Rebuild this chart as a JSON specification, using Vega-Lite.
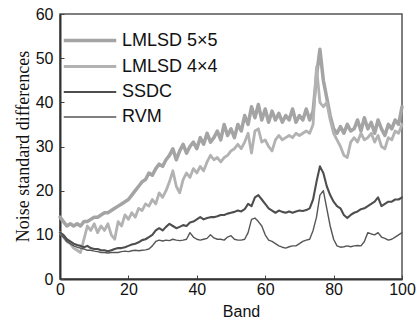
{
  "$schema": "https://vega.github.io/schema/vega-lite/v6.json",
  "width": 342,
  "height": 265,
  "autosize": "none",
  "padding": {"left": 60, "top": 14, "right": 17, "bottom": 41},
  "background": "white",
  "config": {
    "view": {"stroke": "#555", "strokeWidth": 1.5},
    "axis": {"labelFont": "Liberation Sans", "labelFontSize": 16, "labelColor": "#111", "labelFlush": false, "domainColor": "#333", "domainWidth": 2, "tickColor": "#444", "grid": false, "titleColor": "#111"}
  },
  "data": {"values": [
    {"x":0,"a":14,"b":10.5,"c":10.5,"d":10},
    {"x":1,"a":13,"b":9.5,"c":10,"d":9.5},
    {"x":2,"a":12,"b":8.5,"c":9,"d":8.5},
    {"x":3,"a":12.5,"b":8,"c":8.5,"d":8},
    {"x":4,"a":12,"b":7,"c":8,"d":7.5},
    {"x":5,"a":12.5,"b":6.5,"c":7.7,"d":7.2},
    {"x":6,"a":12,"b":6,"c":7.5,"d":7},
    {"x":7,"a":13,"b":9,"c":7.2,"d":6.8},
    {"x":8,"a":13,"b":12,"c":7.5,"d":6.5},
    {"x":9,"a":13.5,"b":11,"c":7,"d":6.5},
    {"x":10,"a":14,"b":12.5,"c":6.8,"d":6.3},
    {"x":11,"a":14,"b":10.5,"c":6.8,"d":6.2},
    {"x":12,"a":14.5,"b":12,"c":6.5,"d":6},
    {"x":13,"a":15,"b":11,"c":6.5,"d":6},
    {"x":14,"a":15,"b":12.5,"c":6.3,"d":5.9},
    {"x":15,"a":15.5,"b":10,"c":6.5,"d":6},
    {"x":16,"a":16,"b":9,"c":6.8,"d":6},
    {"x":17,"a":16.5,"b":13,"c":7,"d":6},
    {"x":18,"a":17,"b":12,"c":7,"d":6.2},
    {"x":19,"a":17.5,"b":14.5,"c":7.2,"d":6.3},
    {"x":20,"a":18,"b":13.5,"c":7.5,"d":6.2},
    {"x":21,"a":19,"b":15,"c":7.8,"d":6.4},
    {"x":22,"a":20,"b":14,"c":8,"d":6.5},
    {"x":23,"a":21,"b":16,"c":8.3,"d":6.4},
    {"x":24,"a":22,"b":15.5,"c":8.8,"d":6.5},
    {"x":25,"a":22.5,"b":17,"c":9,"d":6.6},
    {"x":26,"a":24,"b":16.5,"c":9.5,"d":6.8},
    {"x":27,"a":23.5,"b":18,"c":10,"d":7.5},
    {"x":28,"a":25,"b":17,"c":11,"d":8.5},
    {"x":29,"a":26,"b":19.5,"c":11.5,"d":8.8},
    {"x":30,"a":25.5,"b":18.5,"c":11,"d":8.6},
    {"x":31,"a":27,"b":20,"c":11.8,"d":8.8},
    {"x":32,"a":28,"b":22,"c":12.5,"d":8.7},
    {"x":33,"a":29.5,"b":24.5,"c":12,"d":9},
    {"x":34,"a":27,"b":21,"c":11.5,"d":8.8},
    {"x":35,"a":29,"b":19.5,"c":11.8,"d":8.7},
    {"x":36,"a":30.5,"b":22.5,"c":12.2,"d":8.8},
    {"x":37,"a":28.5,"b":24,"c":12,"d":9},
    {"x":38,"a":30,"b":23,"c":12.8,"d":10.5},
    {"x":39,"a":31,"b":25,"c":13,"d":9.5},
    {"x":40,"a":29.5,"b":24,"c":13.5,"d":9},
    {"x":41,"a":32,"b":25.5,"c":14,"d":8.8},
    {"x":42,"a":30.5,"b":24.5,"c":13.5,"d":9},
    {"x":43,"a":33,"b":26.5,"c":13.8,"d":9.2},
    {"x":44,"a":31,"b":28,"c":14,"d":10},
    {"x":45,"a":32,"b":27,"c":14,"d":9.3},
    {"x":46,"a":33.5,"b":27.5,"c":14.2,"d":9},
    {"x":47,"a":31.5,"b":26.5,"c":14.5,"d":9},
    {"x":48,"a":35,"b":27.5,"c":14.5,"d":8.8},
    {"x":49,"a":32.5,"b":28,"c":14.8,"d":9.5},
    {"x":50,"a":34,"b":29,"c":15,"d":9.8},
    {"x":51,"a":32,"b":29.5,"c":15.2,"d":9},
    {"x":52,"a":35,"b":30.5,"c":15.5,"d":8.8},
    {"x":53,"a":33.5,"b":29.5,"c":15.3,"d":8.8},
    {"x":54,"a":37,"b":31,"c":15.8,"d":9},
    {"x":55,"a":35,"b":33,"c":17,"d":10.5},
    {"x":56,"a":39,"b":28.5,"c":16.5,"d":13.5},
    {"x":57,"a":36.5,"b":33.5,"c":18.5,"d":13.8},
    {"x":58,"a":39.5,"b":34,"c":19,"d":13},
    {"x":59,"a":36,"b":31,"c":18,"d":12},
    {"x":60,"a":38.5,"b":31.5,"c":17,"d":10},
    {"x":61,"a":35.5,"b":30,"c":16,"d":8.8},
    {"x":62,"a":38,"b":29,"c":15.5,"d":8.5},
    {"x":63,"a":36,"b":31.5,"c":15,"d":8},
    {"x":64,"a":37.5,"b":32.5,"c":15.5,"d":7.5},
    {"x":65,"a":35.5,"b":31.5,"c":15.2,"d":7.2},
    {"x":66,"a":37,"b":32,"c":15,"d":7},
    {"x":67,"a":36,"b":32.5,"c":15.3,"d":7.3},
    {"x":68,"a":38.5,"b":32,"c":15,"d":7.5},
    {"x":69,"a":35.5,"b":33,"c":15.3,"d":7.5},
    {"x":70,"a":37,"b":32.5,"c":15.5,"d":8},
    {"x":71,"a":36,"b":33,"c":15.4,"d":8.5},
    {"x":72,"a":38.5,"b":33.5,"c":15.6,"d":8.8},
    {"x":73,"a":36,"b":33,"c":16,"d":9},
    {"x":74,"a":38,"b":35,"c":18,"d":11},
    {"x":75,"a":46,"b":48,"c":22,"d":14},
    {"x":76,"a":52,"b":40,"c":25.5,"d":19},
    {"x":77,"a":45,"b":39,"c":24,"d":20},
    {"x":78,"a":41,"b":40,"c":21,"d":16},
    {"x":79,"a":37,"b":36,"c":19,"d":12},
    {"x":80,"a":34,"b":33,"c":17.5,"d":9},
    {"x":81,"a":33,"b":31.5,"c":16.5,"d":7.5},
    {"x":82,"a":34.5,"b":30,"c":16,"d":7.2},
    {"x":83,"a":33,"b":28,"c":14.5,"d":7.3},
    {"x":84,"a":35,"b":27.5,"c":13.8,"d":7.5},
    {"x":85,"a":33.5,"b":31,"c":14.5,"d":7.3},
    {"x":86,"a":34,"b":32,"c":15,"d":7.5},
    {"x":87,"a":36,"b":31,"c":15.3,"d":7.6},
    {"x":88,"a":33.5,"b":33,"c":15.8,"d":7.5},
    {"x":89,"a":36.5,"b":31.5,"c":16,"d":8.5},
    {"x":90,"a":34,"b":32,"c":16.5,"d":10.5},
    {"x":91,"a":35.5,"b":33,"c":17,"d":10.2},
    {"x":92,"a":33,"b":31,"c":17.5,"d":10},
    {"x":93,"a":36,"b":32.5,"c":18.5,"d":10.5},
    {"x":94,"a":34,"b":30,"c":16.5,"d":9.5},
    {"x":95,"a":32.5,"b":29.5,"c":17,"d":9.2},
    {"x":96,"a":35,"b":32,"c":17.5,"d":8.8},
    {"x":97,"a":34,"b":31.5,"c":17.5,"d":9},
    {"x":98,"a":36,"b":33.5,"c":18,"d":9.5},
    {"x":99,"a":35,"b":33,"c":18,"d":10},
    {"x":100,"a":39,"b":35,"c":18.5,"d":10.5}
  ]},
  "transform": [{"fold": ["a", "b", "c", "d"], "as": ["series", "value"]}],
  "mark": {"type": "line", "strokeJoin": "round", "strokeCap": "round"},
  "encoding": {
    "x": {"field": "x", "type": "quantitative", "scale": {"domain": [0, 100], "nice": false},
      "axis": {"title": "Band", "values": [0, 20, 40, 60, 80, 100], "tickSize": -4, "labelPadding": 6, "titleFont": "Liberation Sans", "titleFontSize": 16, "titleFontWeight": "normal", "titlePadding": 6, "titleX": 181}},
    "y": {"field": "value", "type": "quantitative", "scale": {"domain": [0, 60], "nice": false},
      "axis": {"title": "Noise standard differences", "values": [0, 10, 20, 30, 40, 50, 60], "tickSize": -4, "labelPadding": 11, "titleFont": "Liberation Serif", "titleFontSize": 18, "titleFontWeight": "normal", "titlePadding": 3, "titleY": 132}},
    "color": {"field": "series", "type": "nominal",
      "scale": {"domain": ["a", "b", "c", "d"], "range": ["#a4a4a4", "#b2b2b2", "#4e4e4e", "#565656"]},
      "legend": {"title": null, "orient": "none", "legendX": 17.5, "legendY": 14, "symbolType": "M-2.5,0H2.5", "symbolSize": 441, "labelFont": "Liberation Sans", "labelFontSize": 18, "labelColor": "#111", "rowPadding": 4.5, "labelOffset": 19.5,
        "labelExpr": "{'a':'LMLSD 5×5','b':'LMLSD 4×4','c':'SSDC','d':'RVM'}[datum.label]"}},
    "strokeWidth": {"field": "series", "type": "nominal",
      "scale": {"domain": ["a", "b", "c", "d"], "range": [3.5, 1.4, 3, 1.6]},
      "legend": {"title": null, "orient": "none", "legendX": 17.5, "legendY": 14, "symbolType": "M-2.5,0H2.5", "symbolSize": 441, "labelFont": "Liberation Sans", "labelFontSize": 18, "labelColor": "#111", "rowPadding": 4.5, "labelOffset": 19.5,
        "labelExpr": "{'a':'LMLSD 5×5','b':'LMLSD 4×4','c':'SSDC','d':'RVM'}[datum.label]"}}
  }
}
